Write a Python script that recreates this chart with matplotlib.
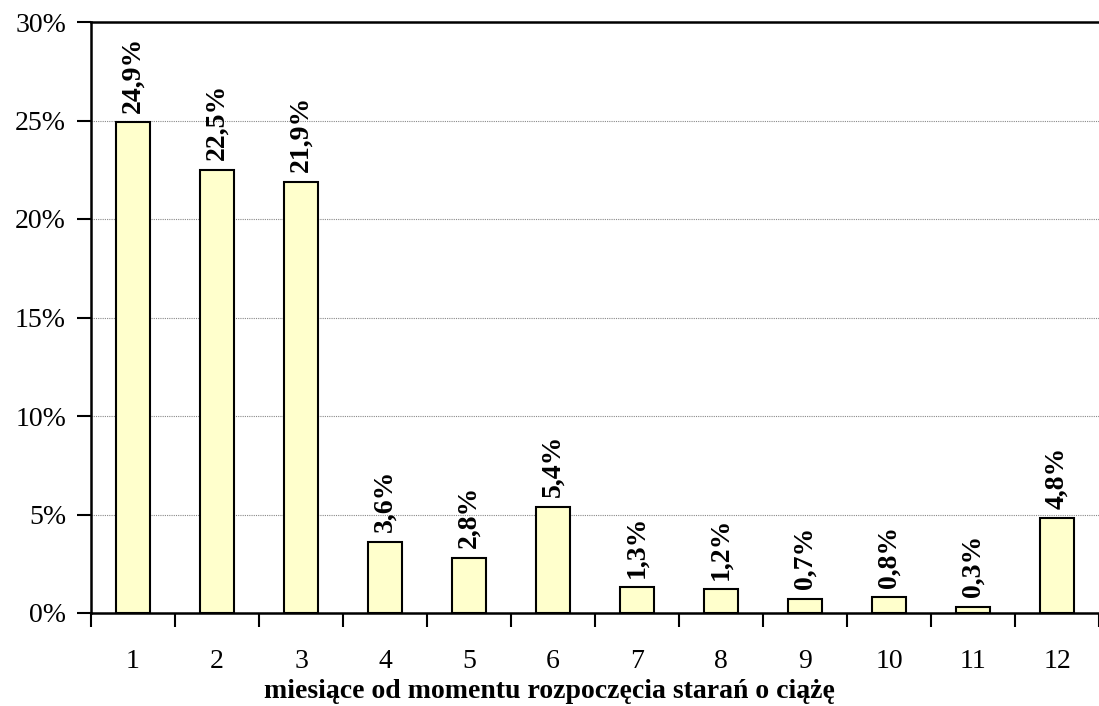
import matplotlib
matplotlib.use("Agg")
import matplotlib.pyplot as plt
import numpy as np
from matplotlib.ticker import FixedLocator, PercentFormatter

months = ["1", "2", "3", "4", "5", "6", "7", "8", "9", "10", "11", "12"]
shares = [24.9, 22.5, 21.9, 3.6, 2.8, 5.4, 1.3, 1.2, 0.7, 0.8, 0.3, 4.8]
y_ticks = [0, 5, 10, 15, 20, 25, 30]
x_title = "miesiące od momentu rozpoczęcia starań o ciążę"

plt.rcParams["font.family"] = ["Liberation Serif", "DejaVu Serif"]

fig = plt.figure(figsize=(10.99, 7.06), dpi=100)
ax = fig.add_axes([91 / 1099, 1 - 613 / 706, 1 - 91 / 1099, (613 - 22) / 706])

x = np.arange(len(months))
bars = ax.bar(x, shares, width=0.4, color="#FFFFCC", edgecolor="black",
              linewidth=1.5, zorder=3)

for xi, v in zip(x, shares):
    ax.annotate(f"{v:.1f}%".replace(".", ","), (xi, v), xytext=(0, 7),
                textcoords="offset points", rotation=90, ha="center",
                va="bottom", fontsize=20, fontweight="bold", zorder=4)

ax.set_xlim(-0.5, len(months) - 0.5)
ax.set_ylim(0, 30)
ax.set_yticks(y_ticks)
ax.yaxis.set_major_formatter(PercentFormatter(decimals=0))
ax.tick_params(axis="y", direction="out", length=10, width=1.5,
               labelsize=20, pad=8)

ax.set_xticks(x)
ax.set_xticklabels(months)
ax.xaxis.set_minor_locator(FixedLocator(np.arange(-0.5, len(months), 1.0)))
ax.tick_params(axis="x", which="major", length=0, labelsize=20, pad=26)
ax.tick_params(axis="x", which="minor", direction="out", length=10, width=1.5)

ax.yaxis.grid(True, linestyle=(0, (1, 1)), color="#888888", linewidth=0.8,
              zorder=0)
ax.set_axisbelow(True)

for side in ("left", "bottom", "top"):
    ax.spines[side].set_linewidth(1.8)
    ax.spines[side].set_color("black")
ax.spines["right"].set_visible(False)

fig.text(0.5, 1 - 692 / 706, x_title, ha="center", va="center",
         fontsize=20, fontweight="bold")

fig.savefig("out.png", dpi=100)
